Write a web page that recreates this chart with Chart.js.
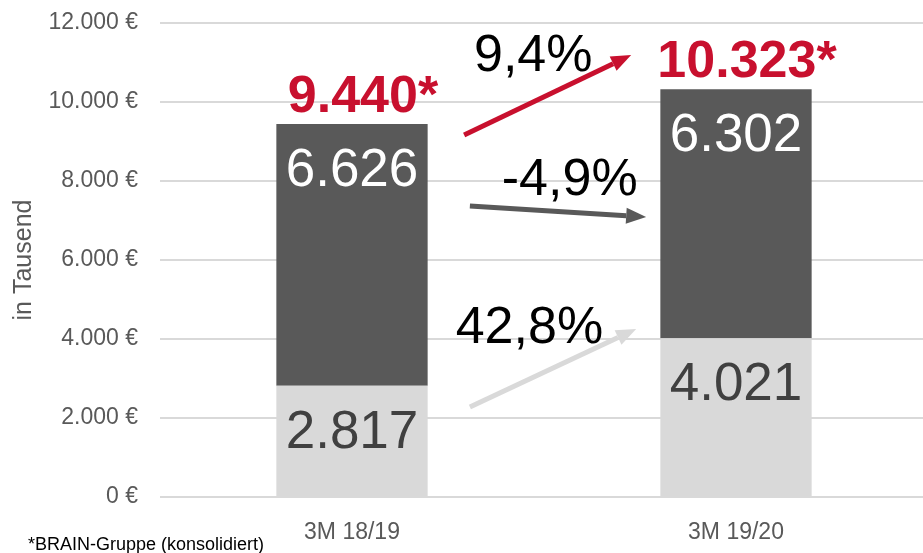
<!DOCTYPE html>
<html>
<head>
<meta charset="utf-8">
<script src="https://cdn.jsdelivr.net/npm/chart.js@4"></script>
<style>
  html, body { margin: 0; padding: 0; background: #fff; overflow: hidden; }
  #wrap { width: 928px; height: 553px; position: relative; }
</style>
</head>
<body>
<div id="wrap"><canvas id="chart"></canvas></div>
<script>
const categories = ['3M 18/19', '3M 19/20'];
const lowerValues = [2817, 4021];
const upperValues = [6626, 6302];
const totalLabels = ['9.440*', '10.323*'];
const yTicks = [0, 2000, 4000, 6000, 8000, 10000, 12000];

// change arrows between the bars: [categoryIndex, value]
const changeLabels = ['9,4%', '-4,9%', '42,8%'];
const arrows = [
  { from: [0.292, 9165], to: [0.727, 11190], color: '#c8102e', text: [0.472, 10785] },
  { from: [0.307, 7367], to: [0.766, 7089], color: '#595959', text: [0.567, 7646] },
  { from: [0.307, 2278], to: [0.740, 4253], color: '#d9d9d9', text: [0.462, 3899] }
];

const fmt = v => v.toLocaleString('de-DE');

function drawArrow(ctx, x1, y1, x2, y2, color) {
  const ang = Math.atan2(y2 - y1, x2 - x1);
  const head = 20, half = 8;
  ctx.save();
  ctx.strokeStyle = color;
  ctx.fillStyle = color;
  ctx.lineWidth = 5;
  ctx.beginPath();
  ctx.moveTo(x1, y1);
  ctx.lineTo(x2 - head * Math.cos(ang), y2 - head * Math.sin(ang));
  ctx.stroke();
  ctx.beginPath();
  ctx.moveTo(x2, y2);
  ctx.lineTo(x2 - head * Math.cos(ang) + half * Math.sin(ang), y2 - head * Math.sin(ang) - half * Math.cos(ang));
  ctx.lineTo(x2 - head * Math.cos(ang) - half * Math.sin(ang), y2 - head * Math.sin(ang) + half * Math.cos(ang));
  ctx.closePath();
  ctx.fill();
  ctx.restore();
}

const labelsPlugin = {
  id: 'labels',
  afterDatasetsDraw(chart) {
    const ctx = chart.ctx;
    const xs = chart.scales.x, ys = chart.scales.y;
    ctx.save();
    ctx.textAlign = 'center';
    ctx.textBaseline = 'alphabetic';
    ctx.font = '53px "Liberation Sans", Arial, sans-serif';
    chart.data.datasets.forEach((ds, di) => {
      chart.getDatasetMeta(di).data.forEach((bar, i) => {
        ctx.fillStyle = di === 0 ? '#404040' : '#ffffff';
        ctx.fillText(fmt(ds.data[i]), bar.x, bar.y + 62);
      });
    });
    // totals
    ctx.font = 'bold 52px "Liberation Sans", Arial, sans-serif';
    ctx.fillStyle = '#c8102e';
    chart.getDatasetMeta(1).data.forEach((bar, i) => {
      ctx.fillText(totalLabels[i], bar.x + 11, bar.y - 12);
    });
    // change arrows
    ctx.font = '52px "Liberation Sans", Arial, sans-serif';
    arrows.forEach((a, i) => {
      drawArrow(ctx,
        xs.getPixelForValue(a.from[0]), ys.getPixelForValue(a.from[1]),
        xs.getPixelForValue(a.to[0]), ys.getPixelForValue(a.to[1]), a.color);
      ctx.fillStyle = '#000000';
      ctx.fillText(changeLabels[i], xs.getPixelForValue(a.text[0]), ys.getPixelForValue(a.text[1]));
    });
    // footnote
    ctx.textAlign = 'left';
    ctx.font = '18px "Liberation Sans", Arial, sans-serif';
    ctx.fillText('*BRAIN-Gruppe (konsolidiert)', 28, 550);
    ctx.restore();
  }
};

new Chart(document.getElementById('chart'), {
  type: 'bar',
  data: {
    labels: categories,
    datasets: [
      { label: 'lower', data: lowerValues, backgroundColor: '#d9d9d9' },
      { label: 'upper', data: upperValues, backgroundColor: '#595959' }
    ]
  },
  options: {
    responsive: true,
    maintainAspectRatio: false,
    animation: false,
    devicePixelRatio: 1,
    layout: { padding: { top: 23, right: 0, left: 0, bottom: 0 } },
    datasets: { bar: { barPercentage: 0.394, categoryPercentage: 1 } },
    plugins: {
      legend: { display: false },
      tooltip: { enabled: false }
    },
    scales: {
      x: {
        stacked: true,
        grid: { display: false },
        border: { display: false },
        ticks: {
          color: '#595959',
          font: { size: 23, family: '"Liberation Sans", Arial, sans-serif' },
          padding: 14
        },
        afterFit(scale) { scale.height = 56; }
      },
      y: {
        stacked: true,
        min: 0,
        max: 12000,
        afterBuildTicks(scale) { scale.ticks = yTicks.map(v => ({ value: v })); },
        grid: { color: '#d9d9d9', lineWidth: 2, drawTicks: false },
        border: { display: false },
        ticks: {
          color: '#595959',
          padding: 22,
          font: { size: 23, family: '"Liberation Sans", Arial, sans-serif' },
          callback: v => fmt(v) + ' €'
        },
        title: {
          display: true,
          text: 'in Tausend',
          color: '#595959',
          font: { size: 25, family: '"Liberation Sans", Arial, sans-serif' },
          padding: { top: 9, bottom: 0 }
        },
        afterFit(scale) {
          scale.width = 160;
          scale.paddingTop = 0;
          scale.paddingBottom = 0;
        }
      }
    }
  },
  plugins: [labelsPlugin]
});
</script>
</body>
</html>
